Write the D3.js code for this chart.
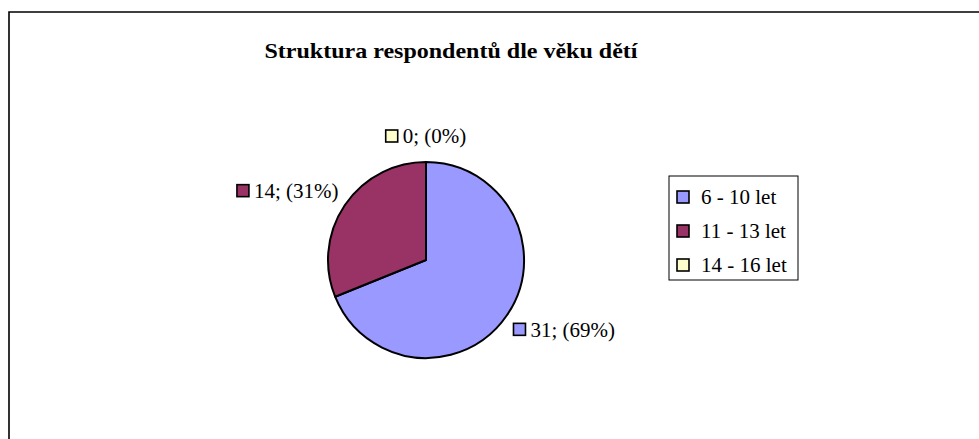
<!DOCTYPE html>
<meta charset="utf-8">
<style>
body { margin: 0; background: #fff; }
svg text { font-family: "Liberation Serif", "DejaVu Serif", serif; fill: #000; }
</style>
<svg width="979" height="439"></svg>
<script src="https://d3js.org/d3.v7.min.js"></script>
<script>
var categories = ["6 - 10 let", "11 - 13 let", "14 - 16 let"];
var values = [31, 14, 0];
var colors = ["#9999FF", "#993366", "#FFFFCC"];
var title = "Struktura respondentů dle věku dětí";

var svg = d3.select("svg"),
    cx = 426, cy = 260, radius = 98, labelR = 116,
    serif = "'Liberation Serif', 'Times New Roman', serif";

// frame (only top and left edges show in the picture)
svg.append("path")
    .attr("d", "M9,445V12H985")
    .attr("fill", "none")
    .attr("stroke", "#000")
    .attr("stroke-width", 1.6);

svg.append("text")
    .attr("x", 451)
    .attr("y", 58)
    .attr("text-anchor", "middle")
    .attr("font-family", serif)
    .attr("textLength", 373)
    .attr("lengthAdjust", "spacingAndGlyphs")
    .style("font-size", "21px")
    .style("font-weight", "bold")
    .text(title);

var total = d3.sum(values);
var data = values.map(function(v, i) { return {name: categories[i], value: v, color: colors[i]}; });

var pie = d3.pie().sort(null).value(function(d) { return d.value; });
var arc = d3.arc().innerRadius(0).outerRadius(radius);

var g = svg.append("g").attr("transform", "translate(" + cx + "," + cy + ")");
var arcs = pie(data);

g.selectAll("path.slice")
  .data(arcs.filter(function(d) { return d.data.value > 0; }))
  .enter().append("path")
    .attr("class", "slice")
    .attr("d", arc)
    .attr("fill", function(d) { return d.data.color; })
    .attr("stroke", "#000")
    .attr("stroke-width", 2)
    .attr("stroke-linejoin", "round");

// data labels
var lab = g.selectAll("g.lab")
  .data(arcs)
  .enter().append("g")
    .attr("class", "lab");

lab.append("rect")
    .attr("x", 0).attr("y", -6)
    .attr("width", 12).attr("height", 12)
    .attr("fill", function(d) { return d.data.color; })
    .attr("stroke", "#000")
    .attr("stroke-width", 1.6);

lab.append("text")
    .attr("x", 17)
    .attr("dy", "0.35em")
    .attr("font-family", serif)
    .style("font-size", "21px")
    .text(function(d) {
      return d.data.value + "; (" + Math.round(d.data.value / total * 100) + "%)";
    });

lab.attr("transform", function(d) {
  var a = (d.startAngle + d.endAngle) / 2;
  var bb = this.getBBox();
  var px = Math.sin(a) * labelR, py = -Math.cos(a) * labelR;
  var mx = px + Math.sin(a) * bb.width / 2, my = py - Math.cos(a) * 8;
  return "translate(" + (mx - bb.width / 2) + "," + my + ")";
});

// legend
var legend = svg.append("g").attr("transform", "translate(669,176)");
legend.append("rect")
    .attr("width", 129).attr("height", 104)
    .attr("fill", "#fff")
    .attr("stroke", "#000")
    .attr("stroke-width", 1);

var item = legend.selectAll("g.item")
  .data(data)
  .enter().append("g")
    .attr("class", "item")
    .attr("transform", function(d, i) { return "translate(8," + (21 + i * 34) + ")"; });

item.append("rect")
    .attr("x", 0).attr("y", -6)
    .attr("width", 12).attr("height", 12)
    .attr("fill", function(d) { return d.color; })
    .attr("stroke", "#000")
    .attr("stroke-width", 1.6);

item.append("text")
    .attr("x", 24)
    .attr("dy", "0.35em")
    .attr("font-family", serif)
    .style("font-size", "21px")
    .text(function(d) { return d.name; });
</script>
